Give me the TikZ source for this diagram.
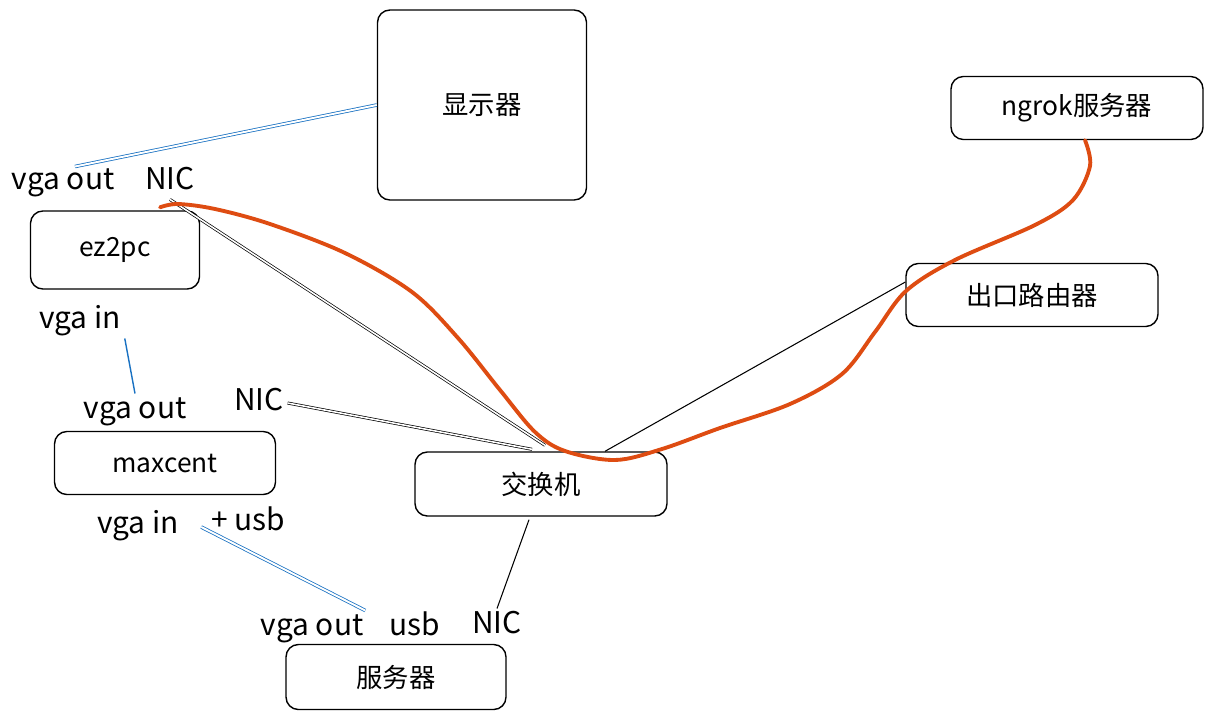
\documentclass[tikz,border=0pt]{standalone}
\usepackage{fontspec}
\setmainfont{Noto Sans CJK SC}
\usetikzlibrary{calc}
\definecolor{VgaBlue}{RGB}{25,113,194}
\definecolor{WanOrange}{RGB}{222,76,18}
\tikzset{
	box/.style={draw=black, line width=0.8pt, rounded corners=7pt, font=\fontsize{15}{18}\selectfont},
	port/.style={font=\fontsize{17}{20}\selectfont, inner sep=2pt, text height=12pt, text depth=3.5pt},
	vgacable/.style={VgaBlue, line width=0.45pt, double=white, double distance=1.1pt},
	vgasingle/.style={VgaBlue, line width=0.8pt},
	lancable/.style={black, line width=0.4pt, double=white, double distance=0.9pt},
	lansingle/.style={black, line width=0.6pt},
	tunnel/.style={WanOrange, line width=2.2pt, line cap=round, line join=round},
}

\begin{document}
\begin{tikzpicture}[x=0.02cm, y=-0.02cm]
			\useasboundingbox (0,0) rectangle (1212,720);
			
			% devices
			\node[box, minimum width=4.18cm, minimum height=3.8cm] (disp) at (482,105) {显示器};
			\node[box, minimum width=5.04cm, minimum height=1.26cm] (ngrok) at (1077,108) {ngrok服务器};
			\node[box, minimum width=3.38cm, minimum height=1.56cm] (ez2pc) at (115,250) {ez2pc};
			\node[box, minimum width=5.04cm, minimum height=1.26cm] (router) at (1032,295) {出口路由器};
			\node[box, minimum width=4.42cm, minimum height=1.26cm] (maxcent) at (165,463) {maxcent};
			\node[box, minimum width=5.04cm, minimum height=1.28cm] (sw) at (541,484) {交换机};
			\node[box, minimum width=4.40cm, minimum height=1.30cm] (srv) at (396,677) {服务器};
			
			% ports
			\node[port] (ezvgaout) at (63,182) {vga out};
			\node[port] (eznic) at (170,182) {NIC};
			\node[port] (ezvgain) at (80,321) {vga in};
			\node[port] (mxvgaout) at (135,411) {vga out};
			\node[port] (mxnic) at (259,403) {NIC};
			\node[port] (mxvgain) at (138,526) {vga in};
			\node[port] (mxusb) at (248,523) {+ usb};
			\node[port] (srvvgaout) at (312,628) {vga out};
			\node[port] (srvusb) at (415,628) {usb};
			\node[port] (srvnic) at (497,626) {NIC};
			
			% vga / usb
			\draw[vgacable] (disp.west) -- ($(ezvgaout.north)+(12,2)$);
			\draw[vgasingle] (ezvgain.south east) -- (mxvgaout.north);
			\draw[vgacable] ($(mxusb.west)+(-6,4)$) -- ($(srvvgaout.north east)+(-2,0)$);
			
			% lan
			\draw[lancable] (eznic.south) -- ($(sw.north)+(4,-6)$);
			\draw[lancable] (mxnic.east) -- ($(sw.north)+(-9,-2)$);
			\draw[lansingle] ($(sw.north)+(64,0)$) -- ($(router.west)+(0,-13)$);
			\draw[lansingle] ($(sw.south)+(-12,3)$) -- (srvnic.north);
			
			% tunnel to ngrok
			\coordinate (wanstart) at ($(ez2pc.north)+(45,-3)$);
			\draw[tunnel] plot[smooth, tension=0.55] coordinates {
				(wanstart) (178,204) (215,209) (270,224) (345,253) (412,292)
				(458,338) (500,390) (535,432) (565,451) (615,460) (662,449)
				(720,428) (790,404) (842,374) (875,332) (906,291) (955,260)
				(1035,225) (1073,200) (1090,166) ($(ngrok.south)+(8,0)$)
			};
		\end{tikzpicture}
\end{document}
